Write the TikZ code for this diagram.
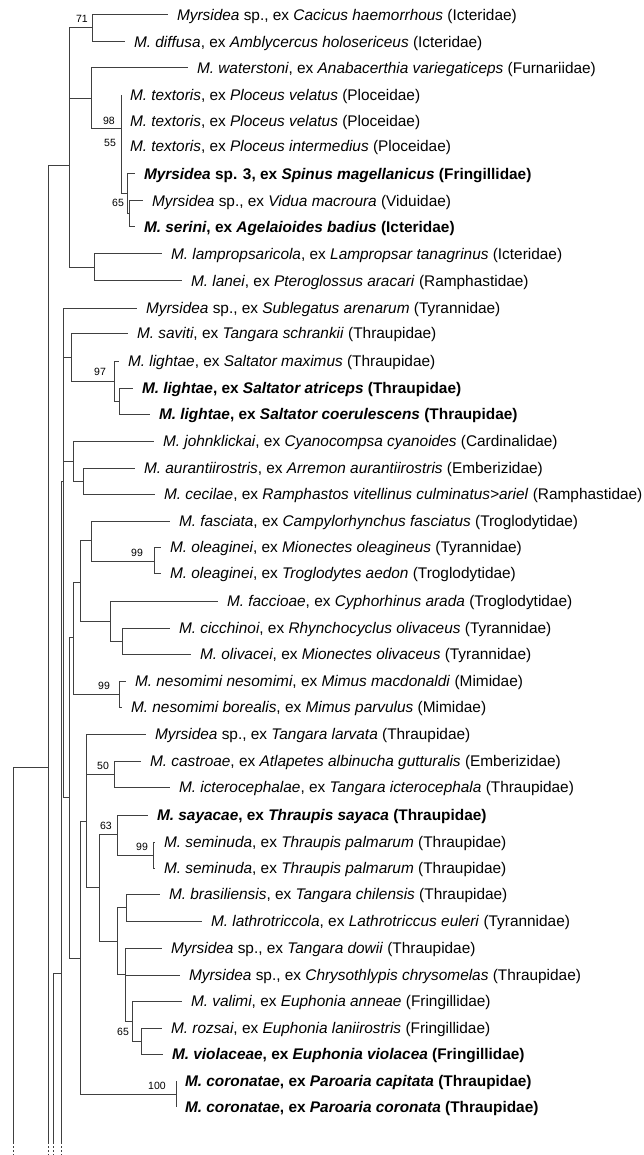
\documentclass[tikz,border=0pt]{standalone}
\usepackage{fontspec}
\setmainfont{Liberation Sans}
\usetikzlibrary{positioning}

\begin{document}
\begin{tikzpicture}[x=1pt,y=-1pt]
\tikzset{
    branch/.style={
       draw=black!75,
       line width=1pt
    },
    cut/.style={
       draw=black!75,
       line width=1pt,
       dash pattern=on 1.5pt off 2.5pt
    },
    tip/.style={
       anchor=west,
       inner xsep=9pt,
       inner ysep=0pt,
       outer sep=0pt,
       text height=11pt,
       text depth=0pt,
       font=\fontsize{15.4}{17}\selectfont
    },
    support/.style={
       inner sep=0pt,
       font=\fontsize{10.5}{12}\selectfont
    }
}
\useasboundingbox (0,0) rectangle (644,1155);
%
% internal nodes
\coordinate (n13) at (13,1142);
\coordinate (n48) at (48,767);
\coordinate (n53) at (53,1142);
\coordinate (n62) at (61.7,973);
\coordinate (nA) at (69,166);
\coordinate (n71) at (92,28);
\coordinate (n91) at (91,99);
\coordinate (nT) at (121,129);
\coordinate (n127) at (127,194);
\coordinate (n65a) at (129,214);
\coordinate (n94) at (94,268);
\coordinate (nB) at (63.3,481);
\coordinate (nSav) at (71,357);
\coordinate (n97) at (114,381);
\coordinate (nLt) at (119,401);
\coordinate (nJoh) at (73,461);
\coordinate (nAur) at (83,481);
\coordinate (n69) at (69,797);
\coordinate (n73) at (73,637);
\coordinate (nFas) at (80,582);
\coordinate (nF91) at (91,540);
\coordinate (n99a) at (154,561);
\coordinate (nFac) at (110,621);
\coordinate (nCic) at (122,641);
\coordinate (nNes) at (119,694);
\coordinate (n80) at (80,958);
\coordinate (n86) at (86,821);
\coordinate (n50) at (114,774);
\coordinate (n99b) at (99,887);
\coordinate (n63) at (117,834);
\coordinate (nSem) at (153,855);
\coordinate (n117) at (117,941);
\coordinate (nBra) at (126,907);
\coordinate (n125) at (125,974);
\coordinate (n65b) at (132,1021);
\coordinate (n141) at (141,1041);
\coordinate (nCor) at (176,1094);
% lines that run on below the picture
\coordinate (b48) at (48,1142);
\coordinate (b62) at (61.7,1142);
\coordinate (e13) at (13,1155);
\coordinate (e48) at (48,1155);
\coordinate (e53) at (53,1155);
\coordinate (e62) at (61.7,1155);

% tips
\node[tip] (t1) at (168,15) {\textit{Myrsidea} sp., ex \textit{Cacicus haemorrhous} (Icteridae)};
\node[tip] (t2) at (125,42) {\textit{M. diffusa}, ex \textit{Amblycercus holosericeus} (Icteridae)};
\node[tip] (t3) at (188,68) {\textit{M. waterstoni}, ex \textit{Anabacerthia variegaticeps} (Furnariidae)};
\node[tip] (t4) at (121,95) {\textit{M. textoris}, ex \textit{Ploceus velatus} (Ploceidae)};
\node[tip] (t5) at (121,121) {\textit{M. textoris}, ex \textit{Ploceus velatus} (Ploceidae)};
\node[tip] (t6) at (121,146) {\textit{M. textoris}, ex \textit{Ploceus intermedius} (Ploceidae)};
\node[tip] (t7) at (135,174) {\textbf{\textit{Myrsidea} sp. 3, ex \textit{Spinus magellanicus} (Fringillidae)}};
\node[tip] (t8) at (143,201) {\textit{Myrsidea} sp., ex \textit{Vidua macroura} (Viduidae)};
\node[tip] (t9) at (135,227) {\textbf{\textit{M. serini}, ex \textit{Agelaioides badius} (Icteridae)}};
\node[tip] (t10) at (162,254) {\textit{M. lampropsaricola}, ex \textit{Lampropsar tanagrinus} (Icteridae)};
\node[tip] (t11) at (182,281) {\textit{M. lanei}, ex \textit{Pteroglossus aracari} (Ramphastidae)};
\node[tip] (t12) at (137,308) {\textit{Myrsidea} sp., ex \textit{Sublegatus arenarum} (Tyrannidae)};
\node[tip] (t13) at (128,333) {\textit{M. saviti}, ex \textit{Tangara schrankii} (Thraupidae)};
\node[tip] (t14) at (119,361) {\textit{M. lightae}, ex \textit{Saltator maximus} (Thraupidae)};
\node[tip] (t15) at (133,388) {\textbf{\textit{M. lightae}, ex \textit{Saltator atriceps} (Thraupidae)}};
\node[tip] (t16) at (150,414) {\textbf{\textit{M. lightae}, ex \textit{Saltator coerulescens} (Thraupidae)}};
\node[tip] (t17) at (154,441) {\textit{M. johnklickai}, ex \textit{Cyanocompsa cyanoides} (Cardinalidae)};
\node[tip] (t18) at (135,468) {\textit{M. aurantiirostris}, ex \textit{Arremon aurantiirostris} (Emberizidae)};
\node[tip] (t19) at (155,494) {\textit{M. cecilae}, ex \textit{Ramphastos vitellinus culminatus>ariel} (Ramphastidae)};
\node[tip] (t20) at (170,521) {\textit{M. fasciata}, ex \textit{Campylorhynchus fasciatus} (Troglodytidae)};
\node[tip] (t21) at (161,547) {\textit{M. oleaginei}, ex \textit{Mionectes oleagineus} (Tyrannidae)};
\node[tip] (t22) at (161,573) {\textit{M. oleaginei}, ex \textit{Troglodytes aedon} (Troglodytidae)};
\node[tip] (t23) at (218,601) {\textit{M. faccioae}, ex \textit{Cyphorhinus arada} (Troglodytidae)};
\node[tip] (t24) at (170,628) {\textit{M. cicchinoi}, ex \textit{Rhynchocyclus olivaceus} (Tyrannidae)};
\node[tip] (t25) at (191,654) {\textit{M. olivacei}, ex \textit{Mionectes olivaceus} (Tyrannidae)};
\node[tip] (t26) at (126,681) {\textit{M. nesomimi nesomimi}, ex \textit{Mimus macdonaldi} (Mimidae)};
\node[tip] (t27) at (122,707) {\textit{M. nesomimi borealis}, ex \textit{Mimus parvulus} (Mimidae)};
\node[tip] (t28) at (146,734) {\textit{Myrsidea} sp., ex \textit{Tangara larvata} (Thraupidae)};
\node[tip] (t29) at (141,761) {\textit{M. castroae}, ex \textit{Atlapetes albinucha gutturalis} (Emberizidae)};
\node[tip] (t30) at (170,787) {\textit{M. icterocephalae}, ex \textit{Tangara icterocephala} (Thraupidae)};
\node[tip] (t31) at (148,815) {\textbf{\textit{M. sayacae}, ex \textit{Thraupis sayaca} (Thraupidae)}};
\node[tip] (t32) at (155,842) {\textit{M. seminuda}, ex \textit{Thraupis palmarum} (Thraupidae)};
\node[tip] (t33) at (155,868) {\textit{M. seminuda}, ex \textit{Thraupis palmarum} (Thraupidae)};
\node[tip] (t34) at (160,894) {\textit{M. brasiliensis}, ex \textit{Tangara chilensis} (Thraupidae)};
\node[tip] (t35) at (202,921) {\textit{M. lathrotriccola}, ex \textit{Lathrotriccus euleri} (Tyrannidae)};
\node[tip] (t36) at (162,948) {\textit{Myrsidea} sp., ex \textit{Tangara dowii} (Thraupidae)};
\node[tip] (t37) at (180,975) {\textit{Myrsidea} sp., ex \textit{Chrysothlypis chrysomelas} (Thraupidae)};
\node[tip] (t38) at (182,1001) {\textit{M. valimi}, ex \textit{Euphonia anneae} (Fringillidae)};
\node[tip] (t39) at (162,1028) {\textit{M. rozsai}, ex \textit{Euphonia laniirostris} (Fringillidae)};
\node[tip] (t40) at (163,1054) {\textbf{\textit{M. violaceae}, ex \textit{Euphonia violacea} (Fringillidae)}};
\node[tip] (t41) at (176,1081) {\textbf{\textit{M. coronatae}, ex \textit{Paroaria capitata} (Thraupidae)}};
\node[tip] (t42) at (176,1107) {\textbf{\textit{M. coronatae}, ex \textit{Paroaria coronata} (Thraupidae)}};

% support values
\node[support] (s71) at (82,19) {71};
\node[support] (s98) at (109,121) {98};
\node[support] (s55) at (110,143) {55};
\node[support] (s65a) at (118,203) {65};
\node[support] (s97) at (100,372) {97};
\node[support] (s99a) at (137,553) {99};
\node[support] (s99b) at (104,686) {99};
\node[support] (s50) at (103,766) {50};
\node[support] (s63) at (106,826) {63};
\node[support] (s99c) at (142,847) {99};
\node[support] (s65b) at (123,1032) {65};
\node[support] (s100) at (157,1086) {100};

% branches
\draw[branch] (n13) |- (n48);
\draw[branch] (n48) |- (nA);
\draw[branch] (n48) -- (b48);
\draw[branch] (n53) |- (n62);
\draw[branch] (n62) |- (nB);
\draw[branch] (n62) -- (b62);
\draw[cut] (n13) -- (e13);
\draw[cut] (b48) -- (e48);
\draw[cut] (n53) -- (e53);
\draw[cut] (b62) -- (e62);

\draw[branch] (nA) |- (n71);
\draw[branch] (nA) |- (n91);
\draw[branch] (nA) |- (n94);
\draw[branch] (n71) |- (t1);
\draw[branch] (n71) |- (t2);
\draw[branch] (n91) |- (t3);
\draw[branch] (n91) |- (nT);
\draw[branch] (nT) |- (t4);
\draw[branch] (nT) |- (t5);
\draw[branch] (nT) |- (t6);
\draw[branch] (nT) |- (n127);
\draw[branch] (n127) |- (t7);
\draw[branch] (n127) |- (n65a);
\draw[branch] (n65a) |- (t8);
\draw[branch] (n65a) |- (t9);
\draw[branch] (n94) |- (t10);
\draw[branch] (n94) |- (t11);

\draw[branch] (nB) |- (t12);
\draw[branch] (nB) |- (nSav);
\draw[branch] (nB) |- (nJoh);
\draw[branch] (nB) |- (n69);
\draw[branch] (nSav) |- (t13);
\draw[branch] (nSav) |- (n97);
\draw[branch] (n97) |- (t14);
\draw[branch] (n97) |- (nLt);
\draw[branch] (nLt) |- (t15);
\draw[branch] (nLt) |- (t16);
\draw[branch] (nJoh) |- (t17);
\draw[branch] (nJoh) |- (nAur);
\draw[branch] (nAur) |- (t18);
\draw[branch] (nAur) |- (t19);

\draw[branch] (n69) |- (n73);
\draw[branch] (n69) |- (n80);
\draw[branch] (n73) |- (nFas);
\draw[branch] (n73) |- (nNes);
\draw[branch] (nFas) |- (nF91);
\draw[branch] (nFas) |- (nFac);
\draw[branch] (nF91) |- (t20);
\draw[branch] (nF91) |- (n99a);
\draw[branch] (n99a) |- (t21);
\draw[branch] (n99a) |- (t22);
\draw[branch] (nFac) |- (t23);
\draw[branch] (nFac) |- (nCic);
\draw[branch] (nCic) |- (t24);
\draw[branch] (nCic) |- (t25);
\draw[branch] (nNes) |- (t26);
\draw[branch] (nNes) |- (t27);

\draw[branch] (n80) |- (n86);
\draw[branch] (n80) |- (nCor);
\draw[branch] (n86) |- (t28);
\draw[branch] (n86) |- (n50);
\draw[branch] (n86) |- (n99b);
\draw[branch] (n50) |- (t29);
\draw[branch] (n50) |- (t30);
\draw[branch] (n99b) |- (n63);
\draw[branch] (n99b) |- (n117);
\draw[branch] (n63) |- (t31);
\draw[branch] (n63) |- (nSem);
\draw[branch] (nSem) |- (t32);
\draw[branch] (nSem) |- (t33);
\draw[branch] (n117) |- (nBra);
\draw[branch] (n117) |- (n125);
\draw[branch] (nBra) |- (t34);
\draw[branch] (nBra) |- (t35);
\draw[branch] (n125) |- (t36);
\draw[branch] (n125) |- (t37);
\draw[branch] (n125) |- (n65b);
\draw[branch] (n65b) |- (t38);
\draw[branch] (n65b) |- (n141);
\draw[branch] (n141) |- (t39);
\draw[branch] (n141) |- (t40);
\draw[branch] (nCor) |- (t41);
\draw[branch] (nCor) |- (t42);
\end{tikzpicture}
\end{document}
